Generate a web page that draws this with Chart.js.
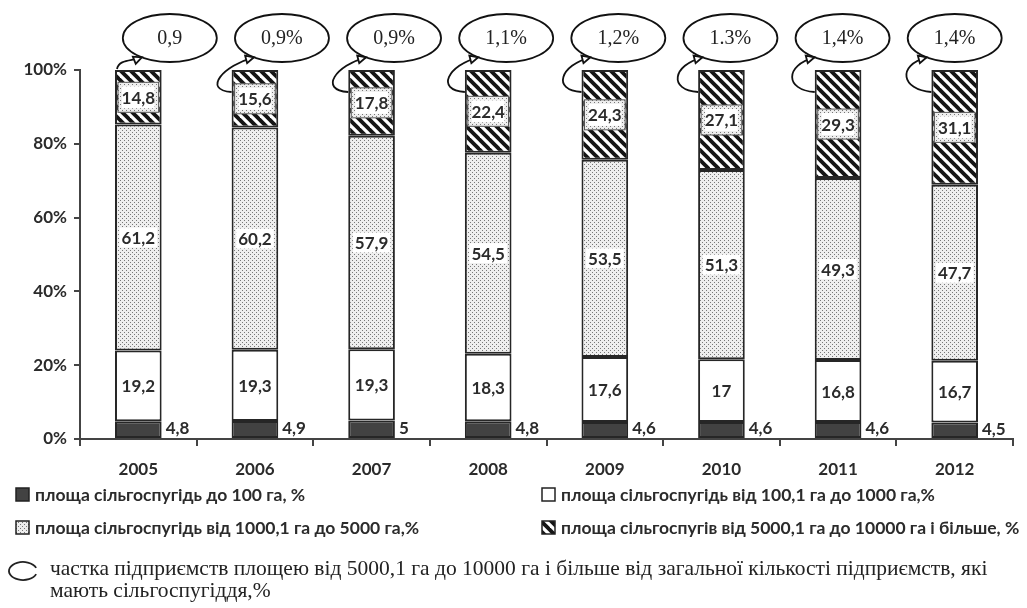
<!DOCTYPE html>
<html>
<head>
<meta charset="utf-8">
<script src="https://cdn.jsdelivr.net/npm/chart.js@4.4.0/dist/chart.umd.min.js"></script>
<style>
  html, body { margin: 0; padding: 0; background: #fff; }
  #wrap { width: 1027px; height: 608px; position: relative; }
</style>
</head>
<body>
<div id="wrap"><canvas id="chart"></canvas></div>
<script>
/* ---- data ---- */
const YEARS   = ['2005', '2006', '2007', '2008', '2009', '2010', '2011', '2012'];
const AREA_100   = [4.8, 4.9, 5, 4.8, 4.6, 4.6, 4.6, 4.5];            // до 100 га
const AREA_1000  = [19.2, 19.3, 19.3, 18.3, 17.6, 17, 16.8, 16.7];    // 100,1 – 1000 га
const AREA_5000  = [61.2, 60.2, 57.9, 54.5, 53.5, 51.3, 49.3, 47.7]; // 1000,1 – 5000 га
const AREA_10000 = [14.8, 15.6, 17.8, 22.4, 24.3, 27.1, 29.3, 31.1]; // 5000,1 – 10000+ га
const SHARE_LABELS = ['0,9', '0,9%', '0,9%', '1,1%', '1,2%', '1.3%', '1,4%', '1,4%'];
const Y_MAX  = 100;
const Y_STEP = 20;
const SERIES_NAMES = [
    'площа сільгоспугідь до 100 га, %',
    'площа сільгоспугідь від 100,1 га до 1000 га,%',
    'площа сільгоспугідь від 1000,1 га до 5000 га,%',
    'площа сільгоспугів від 5000,1 га до 10000 га і більше, %',
];
const NOTE_LINES = [
    'частка підприємств площею від 5000,1 га до 10000 га і більше від загальної кількості підприємств, які',
    'мають сільгоспугіддя,%',
];

const INK       = '#2b2b2b';
const DARK_FILL = '#424242';
const SANS      = 'Lato, "Open Sans", "DejaVu Sans", sans-serif';
const SERIF     = '"Liberation Serif", "DejaVu Serif", serif';

const canvas = document.getElementById('chart');
const mainCtx = canvas.getContext('2d');

/* ---- fill patterns ---- */
function makeDots() {
    const c = document.createElement('canvas');
    c.width = 4; c.height = 4;
    const g = c.getContext('2d');
    g.fillStyle = '#eeeeee'; g.fillRect(0, 0, 4, 4);
    g.fillStyle = '#777777';
    g.fillRect(0, 0, 1, 1);
    g.fillRect(2, 2, 1, 1);
    return mainCtx.createPattern(c, 'repeat');
}
function makeHatch() {
    const c = document.createElement('canvas');
    c.width = 10; c.height = 10;
    const g = c.getContext('2d');
    g.fillStyle = '#fff'; g.fillRect(0, 0, 10, 10);
    g.strokeStyle = '#151515'; g.lineWidth = 3.8;
    [-10, 0, 10].forEach(o => {
        g.beginPath(); g.moveTo(o - 3, -3); g.lineTo(o + 13, 13); g.stroke();
    });
    return mainCtx.createPattern(c, 'repeat');
}
const DOTS  = makeDots();
const HATCH = makeHatch();
const FILLS = [DARK_FILL, '#ffffff', DOTS, HATCH];

const fmt = v => String(v).replace('.', ',');

/* ---- segment labels ---- */
const segLabels = {
    id: 'segLabels',
    afterDatasetsDraw(chart) {
        const { ctx } = chart;
        ctx.save();
        ctx.font = 'bold 17px ' + SANS;
        ctx.textBaseline = 'middle';
        chart.data.datasets.forEach((ds, di) => {
            chart.getDatasetMeta(di).data.forEach((bar, i) => {
                const txt = fmt(ds.data[i]);
                const L = bar.x - bar.width / 2, R = bar.x + bar.width / 2;
                const midY = (bar.y + bar.base) / 2;
                const tw = ctx.measureText(txt).width;
                if (di === 0) {
                    ctx.textAlign = 'left';
                    ctx.fillStyle = INK;
                    ctx.fillText(txt, R + 4, midY - 1);
                    return;
                }
                ctx.textAlign = 'center';
                if (di === 2) {
                    ctx.fillStyle = '#fff';
                    ctx.fillRect(bar.x - tw / 2 - 2, midY - 10, tw + 4, 20);
                }
                if (di === 3) {
                    const bw = bar.width - 6, bh = 30;
                    ctx.fillStyle = '#fff';
                    ctx.fillRect(L + 3, midY - bh / 2, bw, bh);
                    ctx.strokeStyle = DOTS; ctx.lineWidth = 4;
                    ctx.strokeRect(L + 5, midY - bh / 2 + 2, bw - 4, bh - 4);
                    ctx.strokeStyle = '#555'; ctx.lineWidth = 1;
                    ctx.strokeRect(L + 3, midY - bh / 2, bw, bh);
                }
                ctx.fillStyle = INK;
                ctx.fillText(txt, bar.x, midY + 1);
            });
        });
        ctx.restore();
    },
};

/* ---- bubbles, arrows, legend and note ---- */
const extras = {
    id: 'extras',
    afterDraw(chart) {
        const { ctx, chartArea } = chart;
        const n = YEARS.length;
        ctx.save();
        ctx.strokeStyle = '#111';
        ctx.lineWidth = 1.8;
        chart.getDatasetMeta(3).data.forEach((bar, i) => {
            const L = bar.x - bar.width / 2;
            const cx = bar.x + (n - 1 - i) * 4.5;
            const cy = chartArea.top - 32;
            const rx = 47, ry = 24;
            ctx.beginPath();
            ctx.ellipse(cx, cy, rx, ry, 0, 0, Math.PI * 2);
            ctx.fillStyle = '#fff'; ctx.fill(); ctx.stroke();
            ctx.fillStyle = '#222';
            ctx.font = '20px ' + SERIF;
            ctx.textAlign = 'center'; ctx.textBaseline = 'middle';
            ctx.fillText(SHARE_LABELS[i], cx, cy + 1);

            // curved arrow from the bar to the bubble
            const tipX = cx - 28;
            const tipY = cy + ry * Math.sqrt(1 - (28 / rx) ** 2);
            let sx, sy, c1, c2;
            if (i === 0) {
                sx = L + 2; sy = bar.y - 1;
                c1 = [sx + 2, sy - 10]; c2 = [tipX - 10, tipY + 4];
            } else {
                sx = L; sy = bar.y + 22;
                c1 = [sx - 30, sy - 2]; c2 = [tipX - 30, tipY + 8];
            }
            ctx.beginPath();
            ctx.moveTo(sx, sy);
            ctx.bezierCurveTo(c1[0], c1[1], c2[0], c2[1], tipX, tipY);
            ctx.stroke();
            const ang = Math.atan2(tipY - c2[1], tipX - c2[0]);
            const hl = 9;
            ctx.beginPath();
            ctx.moveTo(tipX, tipY);
            ctx.lineTo(tipX - hl * Math.cos(ang - 0.45), tipY - hl * Math.sin(ang - 0.45));
            ctx.lineTo(tipX - hl * Math.cos(ang + 0.45), tipY - hl * Math.sin(ang + 0.45));
            ctx.closePath();
            ctx.fillStyle = '#fff'; ctx.fill(); ctx.stroke();
        });

        // legend (2 x 2)
        const cols = [16, 542], rows = [495, 528];
        ctx.font = 'bold 17.5px ' + SANS;
        ctx.textAlign = 'left'; ctx.textBaseline = 'middle';
        chart.data.datasets.forEach((ds, k) => {
            const x = cols[k % 2], y = rows[Math.floor(k / 2)];
            ctx.fillStyle = ds.backgroundColor;
            ctx.fillRect(x, y - 7, 13, 13);
            ctx.strokeStyle = '#222'; ctx.lineWidth = 1.5;
            ctx.strokeRect(x, y - 7, 13, 13);
            ctx.fillStyle = INK;
            ctx.fillText(ds.label, x + 19, y);
        });

        // note with open-ellipse marker
        ctx.strokeStyle = '#222'; ctx.lineWidth = 1.8;
        ctx.beginPath();
        ctx.ellipse(23, 571, 14, 9, 0, 0.35, Math.PI * 2 - 0.35);
        ctx.stroke();
        ctx.fillStyle = '#222';
        ctx.font = '21.5px ' + SERIF;
        ctx.fillText(NOTE_LINES[0], 50, 569);
        ctx.fillText(NOTE_LINES[1], 50, 591);
        ctx.restore();
    },
};

const seriesData = [AREA_100, AREA_1000, AREA_5000, AREA_10000];

new Chart(mainCtx, {
    type: 'bar',
    plugins: [segLabels, extras],
    data: {
        labels: YEARS,
        datasets: seriesData.map((d, k) => ({
            label: SERIES_NAMES[k],
            data: d,
            backgroundColor: FILLS[k],
            borderColor: '#262626',
            borderWidth: 2,
            borderSkipped: false,
            barPercentage: 0.4,
            categoryPercentage: 1,
        })),
    },
    options: {
        responsive: true,
        maintainAspectRatio: false,
        animation: false,
        layout: { padding: { top: 70, right: 14, left: 0, bottom: 0 } },
        plugins: { legend: { display: false }, tooltip: { enabled: false } },
        scales: {
            x: {
                stacked: true,
                afterFit: s => { s.height = 169; },
                grid: { drawOnChartArea: false, color: '#444', tickLength: 7, lineWidth: 2 },
                border: { color: '#444', width: 2 },
                ticks: { color: INK, font: { family: SANS, size: 17, weight: 'bold' }, padding: 13 },
            },
            y: {
                stacked: true,
                min: 0, max: Y_MAX,
                afterFit: s => { s.width = 80; },
                grid: { drawOnChartArea: false, color: '#444', tickLength: 6, lineWidth: 2 },
                border: { color: '#444', width: 2 },
                ticks: {
                    stepSize: Y_STEP,
                    color: INK,
                    padding: 7,
                    font: { family: SANS, size: 17, weight: 'bold' },
                    callback: v => v + '%',
                },
            },
        },
    },
});
</script>
</body>
</html>
